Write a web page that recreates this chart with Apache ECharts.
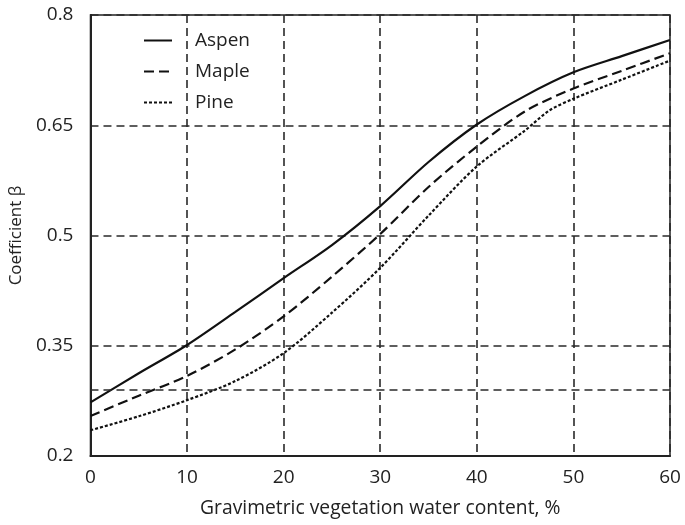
<!DOCTYPE html>
<html>
<head>
<meta charset="utf-8">
<script src="https://cdn.jsdelivr.net/npm/echarts@6/dist/echarts.min.js"></script>
<style>html,body{margin:0;padding:0;background:#fff}#c{width:685px;height:525px}</style>
</head>
<body>
<div id="c"></div>
<script>
var seriesNames = ['Aspen', 'Maple', 'Pine'];
var aspenX = [0, 5, 10, 15, 20, 25, 30, 35, 40, 45, 50, 55, 60];
var aspenY = [0.273, 0.3125, 0.351, 0.396, 0.442, 0.487, 0.540, 0.600, 0.651, 0.690, 0.722, 0.744, 0.766];
var mapleX = [0, 5, 10, 15, 20, 25, 30, 35, 40, 45, 50, 55, 60];
var mapleY = [0.2545, 0.282, 0.309, 0.345, 0.390, 0.444, 0.502, 0.566, 0.621, 0.669, 0.700, 0.724, 0.748];
var pineX = [0, 5, 10, 15, 20, 25, 30, 35, 40, 45, 47.5, 50, 55, 60];
var pineY = [0.235, 0.254, 0.276, 0.302, 0.340, 0.395, 0.456, 0.527, 0.594, 0.643, 0.670, 0.686, 0.712, 0.738];
var yTicks = [0.2, 0.35, 0.5, 0.65, 0.8];
var xTicks = [0, 10, 20, 30, 40, 50, 60];
var extraRefLine = 0.29;

function pairs(xs, ys) { return xs.map(function (x, i) { return [x, ys[i]]; }); }

var chart = echarts.init(document.getElementById('c'), null, { renderer: 'canvas' });
var fontFam = '"Open Sans", "Noto Sans", sans-serif';
var gridLine = { show: true, lineStyle: { color: '#2a2a2a', width: 1.6, type: [8, 5] } };

chart.setOption({
  animation: false,
  backgroundColor: '#fff',
  grid: { left: 88, right: 15, top: 15, bottom: 69, show: true, borderColor: '#222', borderWidth: 1.5, backgroundColor: 'transparent' },
  legend: {
    orient: 'vertical', left: 143, top: 31, padding: 0, itemWidth: 28, itemHeight: 14, itemGap: 12,
    data: seriesNames,
    itemStyle: { opacity: 0 },
    textStyle: { fontFamily: fontFam, fontSize: 19, color: '#222', padding: [0, 0, 0, 18] }
  },
  xAxis: {
    type: 'value', min: xTicks[0], max: xTicks[xTicks.length - 1], interval: 10,
    name: 'Gravimetric vegetation water content, %', nameLocation: 'middle', nameGap: 43,
    nameTextStyle: { fontFamily: fontFam, fontSize: 19.3, color: '#222' },
    axisLine: { show: true, lineStyle: { color: '#222', width: 2 } },
    axisTick: { show: false },
    axisLabel: { fontFamily: fontFam, fontSize: 19, color: '#222', margin: 12 },
    splitLine: gridLine
  },
  yAxis: {
    type: 'value', min: yTicks[0], max: yTicks[yTicks.length - 1],
    name: 'Coefficient β', nameLocation: 'middle', nameGap: 60,
    nameTextStyle: { fontFamily: fontFam, fontSize: 17, color: '#222' },
    axisLine: { show: true, lineStyle: { color: '#222', width: 2 } },
    axisTick: { show: false, customValues: yTicks },
    axisLabel: { fontFamily: fontFam, fontSize: 19, color: '#222', margin: 17, customValues: yTicks },
    splitLine: gridLine
  },
  series: [
    {
      name: seriesNames[0], type: 'line', smooth: 0.3, showSymbol: false, symbol: 'none',
      data: pairs(aspenX, aspenY),
      lineStyle: { color: '#111', width: 2.2, type: 'solid' }, itemStyle: { color: '#111' },
      markLine: {
        silent: true, symbol: 'none', label: { show: false },
        lineStyle: { color: '#2a2a2a', width: 1.6, type: [8, 5] },
        data: [{ yAxis: extraRefLine }]
      }
    },
    {
      name: seriesNames[1], type: 'line', smooth: 0.3, showSymbol: false, symbol: 'none',
      data: pairs(mapleX, mapleY),
      lineStyle: { color: '#111', width: 2.2, type: [10, 5] }, itemStyle: { color: '#111' }
    },
    {
      name: seriesNames[2], type: 'line', smooth: 0.3, showSymbol: false, symbol: 'none',
      data: pairs(pineX, pineY),
      lineStyle: { color: '#111', width: 2.2, type: [3, 2] }, itemStyle: { color: '#111' }
    }
  ]
});
</script>
</body>
</html>
